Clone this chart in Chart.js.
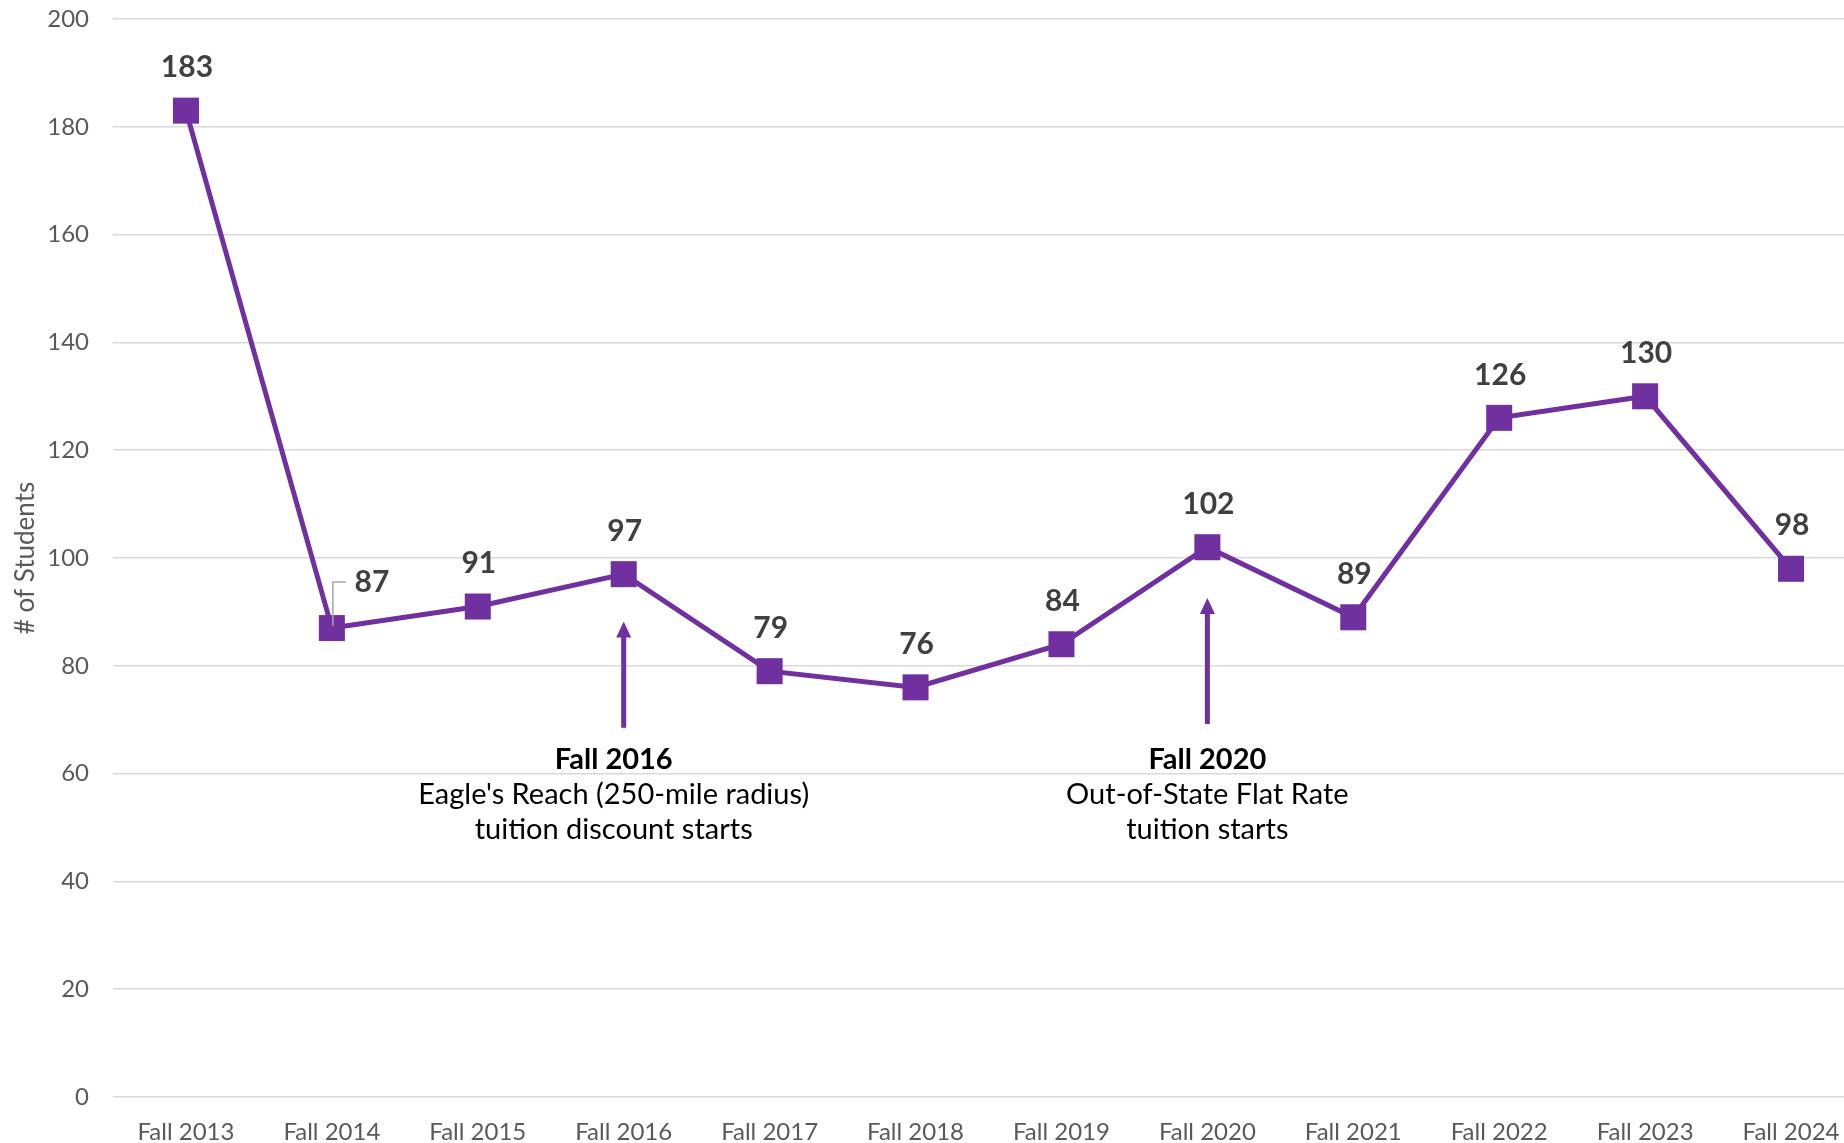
<!DOCTYPE html>
<html>
<head>
<meta charset="utf-8">
<script src="https://cdn.jsdelivr.net/npm/chart.js@4.4.1/dist/chart.umd.min.js"></script>
<style>
  html, body { margin: 0; padding: 0; background: #fff; overflow: hidden; }
  #wrap { width: 1864px; height: 1143px; position: relative; }
</style>
</head>
<body>
<div id="wrap"><canvas id="grafico"></canvas></div>
<script>
// datos
const terms = ['Fall 2013', 'Fall 2014', 'Fall 2015', 'Fall 2016', 'Fall 2017', 'Fall 2018',
               'Fall 2019', 'Fall 2020', 'Fall 2021', 'Fall 2022', 'Fall 2023', 'Fall 2024'];
const students = [183, 87, 91, 97, 79, 76, 84, 102, 89, 126, 130, 98];
const yTicks = [0, 20, 40, 60, 80, 100, 120, 140, 160, 180, 200];

// notas de las flechas
const notaTerm = ['Fall 2016', 'Fall 2020'];
const notaTitulo = ['Fall 2016', 'Fall 2020'];
const notaTexto = [
  ["Eagle's Reach (250-mile radius)", 'tuition discount starts'],
  ['Out-of-State Flat Rate', 'tuition starts']
];
const notaPunta = [88.2, 92.6];
const notaBase = [68.5, 69.2];

const PURPLE = '#7030A0';
const FONT = 'Lato, "Open Sans", sans-serif';

const etiquetas = {
  id: 'etiquetas',
  afterDatasetsDraw(chart) {
    const ctx = chart.ctx;
    const meta = chart.getDatasetMeta(0);
    ctx.save();
    ctx.font = 'bold 30px ' + FONT;
    ctx.fillStyle = '#404040';
    ctx.textAlign = 'center';
    ctx.textBaseline = 'middle';
    meta.data.forEach((pt, i) => {
      if (i === 1) {
        // etiqueta con linea guia
        ctx.strokeStyle = '#a6a6a6';
        ctx.lineWidth = 1.5;
        ctx.beginPath();
        ctx.moveTo(pt.x + 1, pt.y - 2);
        ctx.lineTo(pt.x + 1, pt.y - 46);
        ctx.lineTo(pt.x + 14, pt.y - 46);
        ctx.stroke();
        ctx.fillText(students[i], pt.x + 40, pt.y - 46);
      } else {
        ctx.fillText(students[i], pt.x + 1, pt.y - 43);
      }
    });

    const xs = chart.scales.x, ys = chart.scales.y;
    notaTerm.forEach((t, k) => {
      const x = xs.getPixelForValue(terms.indexOf(t));
      const tip = ys.getPixelForValue(notaPunta[k]);
      const base = ys.getPixelForValue(notaBase[k]);
      ctx.strokeStyle = PURPLE;
      ctx.fillStyle = PURPLE;
      ctx.lineWidth = 5;
      ctx.beginPath();
      ctx.moveTo(x, base);
      ctx.lineTo(x, tip + 12);
      ctx.stroke();
      ctx.beginPath();
      ctx.moveTo(x, tip);
      ctx.lineTo(x - 7.5, tip + 16);
      ctx.lineTo(x + 7.5, tip + 16);
      ctx.closePath();
      ctx.fill();

      const cx = k === 0 ? x - 10 : x;
      const y0 = ys.getPixelForValue(62.5);
      ctx.fillStyle = '#000';
      ctx.font = 'bold 29px ' + FONT;
      ctx.fillText(notaTitulo[k], cx, y0);
      ctx.font = '29px ' + FONT;
      notaTexto[k].forEach((line, j) => {
        ctx.fillText(line, cx, y0 + 35 + j * 35);
      });
    });
    ctx.restore();
  }
};

new Chart(document.querySelector('#grafico'), {
  type: 'line',
  data: {
    labels: terms,
    datasets: [{
      label: '# of Students',
      data: students,
      borderColor: PURPLE,
      backgroundColor: PURPLE,
      borderWidth: 5,
      pointStyle: 'rect',
      pointRadius: 18.4,
      pointHoverRadius: 18.4,
      pointBorderWidth: 0,
      tension: 0,
      clip: false
    }]
  },
  options: {
    responsive: true,
    maintainAspectRatio: false,
    devicePixelRatio: 1,
    animation: false,
    layout: { autoPadding: false, padding: { top: 19, right: 0, bottom: 0, left: 0 } },
    plugins: { legend: { display: false }, tooltip: { enabled: false } },
    scales: {
      x: {
        offset: true,
        grid: { display: false, drawTicks: false, offset: true },
        border: { display: false },
        ticks: { color: '#595959', font: { family: FONT, size: 24 }, padding: 21, maxRotation: 0, autoSkip: false },
        afterFit(s) { s.height = 46; s.paddingLeft = 0; s.paddingRight = 0; }
      },
      y: {
        min: 0,
        max: 200,
        afterBuildTicks(s) { s.ticks = yTicks.map(v => ({ value: v })); },
        grid: { color: '#d9d9d9', lineWidth: 1.5, drawTicks: false },
        border: { display: false },
        ticks: { color: '#595959', font: { family: FONT, size: 24 }, padding: 24 },
        title: { display: true, text: '# of Students', color: '#595959', font: { family: FONT, size: 26 }, padding: { top: 10, bottom: 0 } },
        afterFit(s) { s.width = 113; s.paddingTop = 0; s.paddingBottom = 0; }
      }
    }
  },
  plugins: [etiquetas]
});
</script>
</body>
</html>
